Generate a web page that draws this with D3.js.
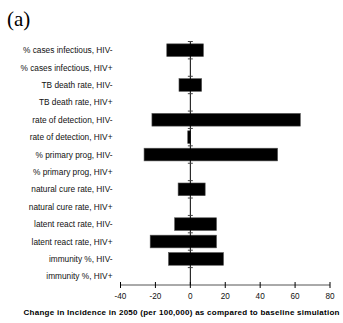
<!DOCTYPE html>
<html>
<head>
<meta charset="utf-8">
<script src="https://cdn.jsdelivr.net/npm/d3@7"></script>
<style>
  body { margin: 0; background: #fff; }
  svg { display: block; }
  text { font-family: "Liberation Sans", Arial, sans-serif; }
</style>
</head>
<body>
<div id="chart"></div>
<script>
// sensitivity (tornado) chart, low and high ends of each bar
var categories = [
  "% cases infectious, HIV-", "% cases infectious, HIV+",
  "TB death rate, HIV-", "TB death rate, HIV+",
  "rate of detection, HIV-", "rate of detection, HIV+",
  "% primary prog, HIV-", "% primary prog, HIV+",
  "natural cure rate, HIV-", "natural cure rate, HIV+",
  "latent react rate, HIV-", "latent react rate, HIV+",
  "immunity %, HIV-", "immunity %, HIV+"
];
var lowValues  = [-13.5, 0, -6.5, 0, -22, -1.5, -26.5, 0, -7, 0, -9, -23, -12.5, 0];
var highValues = [7.5, 0, 6.5, 0, 63, 0, 50, 0, 8.5, 0, 15, 15, 19, 0];
var xTicks = [-40, -20, 0, 20, 40, 60, 80];

var width = 343, height = 323;

var svg = d3.select('#chart').append('svg')
  .attr('width', width)
  .attr('height', height);

var x = d3.scaleLinear().domain([-40, 80]).range([120.5, 330]);
var y = d3.scaleBand().domain(categories).range([41.5, 285])
  .paddingInner(0.27).paddingOuter(0.135);
var step = y.step();

svg.append('text')
  .attr('x', 7)
  .attr('y', 26)
  .style('font-family', '"Liberation Serif", "Times New Roman", serif')
  .style('font-size', '21px')
  .text('(a)');

// category labels, kept at the left of the plot
svg.append('g').selectAll('text')
  .data(categories)
  .enter()
  .append('text')
  .attr('x', 112.5)
  .attr('y', function (d) { return y(d) + y.bandwidth() / 2 + 3; })
  .attr('text-anchor', 'end')
  .style('font-size', '8.3px')
  .style('fill', '#111')
  .text(function (d) { return d; });

// bars
svg.append('g').selectAll('rect')
  .data(categories)
  .enter()
  .append('rect')
  .attr('x', function (d, i) { return x(lowValues[i]); })
  .attr('width', function (d, i) { return x(highValues[i]) - x(lowValues[i]); })
  .attr('y', function (d) { return y(d); })
  .attr('height', y.bandwidth())
  .style('fill', '#000')
  .style('stroke', '#555')
  .style('stroke-width', 0.6);

// vertical axis at zero with ticks between categories
var boundaries = d3.range(categories.length + 1).map(function (i) { return 41.5 + i * step; });
var yAxis = svg.append('g');
yAxis.append('line')
  .attr('x1', x(0)).attr('x2', x(0))
  .attr('y1', 41.5).attr('y2', 285)
  .style('stroke', '#000')
  .style('stroke-width', 1);
yAxis.selectAll('.ytick')
  .data(boundaries.slice(0, -1))
  .enter()
  .append('line')
  .attr('x1', x(0) - 2.5).attr('x2', x(0) + 2.5)
  .attr('y1', function (d) { return d; })
  .attr('y2', function (d) { return d; })
  .style('stroke', '#444')
  .style('stroke-width', 1);

// horizontal axis
var xAxis = svg.append('g').attr('transform', 'translate(0,285)');
xAxis.append('line')
  .attr('x1', x(-40)).attr('x2', x(80))
  .style('stroke', '#555')
  .style('stroke-width', 1);
xAxis.selectAll('.xtick')
  .data(xTicks)
  .enter()
  .append('line')
  .attr('x1', function (d) { return x(d); })
  .attr('x2', function (d) { return x(d); })
  .attr('y1', -3).attr('y2', 3)
  .style('stroke', '#000')
  .style('stroke-width', 1);
xAxis.selectAll('text')
  .data(xTicks)
  .enter()
  .append('text')
  .attr('x', function (d) { return x(d); })
  .attr('y', 14)
  .attr('text-anchor', 'middle')
  .style('font-size', '8.2px')
  .style('fill', '#111')
  .text(function (d) { return d; });

svg.append('text')
  .attr('x', 181.5)
  .attr('y', 315)
  .attr('text-anchor', 'middle')
  .attr('textLength', 316)
  .attr('lengthAdjust', 'spacing')
  .style('font-size', '8px')
  .style('font-weight', 'bold')
  .text('Change in Incidence in 2050 (per 100,000) as compared to baseline simulation');
</script>
</body>
</html>
